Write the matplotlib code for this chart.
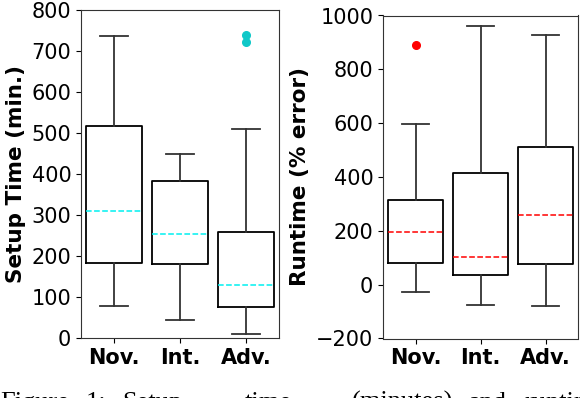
import matplotlib
matplotlib.use("Agg")
from matplotlib import pyplot as plt

groups = ["Nov.", "Int.", "Adv."]

# setup time (minutes)
setup_med = [310, 253, 129]
setup_q1 = [184, 180, 76]
setup_q3 = [517, 383, 259]
setup_lo = [79, 45, 10]
setup_hi = [736, 450, 510]
setup_out = [[], [], [740, 722]]

# runtime (% error)
run_med = [195, 102, 259]
run_q1 = [81, 35, 78]
run_q3 = [315, 416, 513]
run_lo = [-27, -74, -78]
run_hi = [598, 961, 927]
run_out = [[890], [], []]


def stats(med, q1, q3, lo, hi, out):
    return [dict(med=m, q1=a, q3=b, whislo=l, whishi=h, fliers=f, label=g)
            for m, a, b, l, h, f, g in zip(med, q1, q3, lo, hi, out, groups)]


plt.rcParams["font.family"] = "DejaVu Sans"
plt.rcParams["font.size"] = 15

fig = plt.figure(figsize=(5.8, 3.98), dpi=100)
ax1 = fig.add_axes([81 / 580, 60 / 398, 198 / 580, 328 / 398])
ax2 = fig.add_axes([383 / 580, 59.5 / 398, 195 / 580, 323 / 398])


def draw(ax, st, col, flier_col):
    ax.bxp(st, widths=0.86,
           boxprops=dict(color="black", linewidth=1.3),
           whiskerprops=dict(color="#333333", linewidth=1.3),
           capprops=dict(color="#333333", linewidth=1.3),
           medianprops=dict(color=col, linestyle="--", linewidth=1.1),
           flierprops=dict(marker="o", markerfacecolor=flier_col,
                           markeredgecolor=flier_col, markersize=5.5))
    for lab in ax.get_xticklabels():
        lab.set_fontweight("bold")
    for s in ax.spines.values():
        s.set_color("#333333")


draw(ax1, stats(setup_med, setup_q1, setup_q3, setup_lo, setup_hi, setup_out), "#00f0f0", "#10c8c8")
ax1.set_ylim(0, 800)
ax1.set_yticks(range(0, 801, 100))
ax1.set_ylabel("Setup Time (min.)", fontweight="bold", fontsize=15.5, labelpad=4)

draw(ax2, stats(run_med, run_q1, run_q3, run_lo, run_hi, run_out), "red", "red")
ax2.set_ylim(-200, 1000)
ax2.set_yticks(range(-200, 1001, 200))
ax2.set_ylabel("Runtime (% error)", fontweight="bold", fontsize=15.5, labelpad=4)

# caption of the paper, mostly cut off at the bottom edge
words = ["Figure", "1:", "Setup", "time", "(minutes)", "and", "runtime"]
word_x = [0, 86, 122, 245, 352, 468, 525]
for w, x in zip(words, word_x):
    fig.text(x / 580, -11 / 398, w, fontsize=19, family="Liberation Serif",
             va="baseline", ha="left")

fig.savefig("out.png", dpi=100)
